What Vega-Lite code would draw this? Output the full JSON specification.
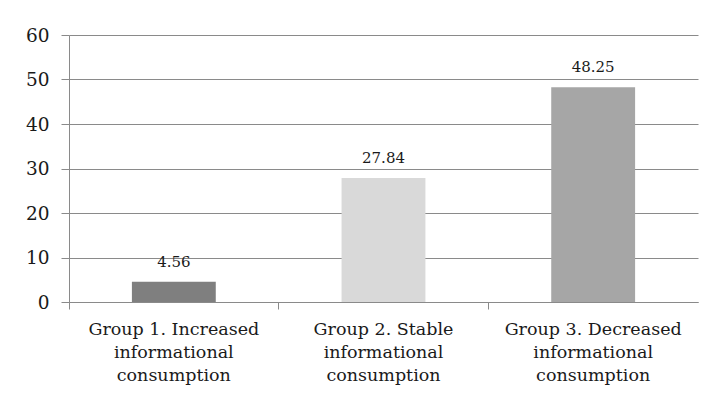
{
  "$schema": "https://vega.github.io/schema/vega-lite/v6.json",
  "width": 629,
  "height": 267,
  "autosize": {"type": "none"},
  "padding": {"left": 69, "top": 35, "right": 14, "bottom": 99},
  "background": "white",
  "config": {
    "view": {"stroke": null},
    "font": "DejaVu Serif"
  },
  "data": {
    "values": [
      {"group": "Group 1. Increased|informational|consumption", "value": 4.56, "shade": "g1"},
      {"group": "Group 2. Stable|informational|consumption", "value": 27.84, "shade": "g2"},
      {"group": "Group 3. Decreased|informational|consumption", "value": 48.25, "shade": "g3"}
    ]
  },
  "encoding": {
    "x": {
      "field": "group",
      "type": "nominal",
      "sort": null,
      "scale": {"paddingInner": 0, "paddingOuter": 0},
      "axis": {
        "title": null,
        "labelAngle": 0,
        "labelExpr": "split(datum.label, '|')",
        "labelFont": "DejaVu Serif",
        "labelFontSize": 17.5,
        "labelColor": "#1a1a1a",
        "labelLineHeight": 23,
        "labelPadding": 11,
        "bandPosition": 0,
        "domainColor": "#8a8a8a",
        "tickColor": "#8a8a8a",
        "tickSize": 7,
        "grid": false
      }
    }
  },
  "layer": [
    {
      "mark": {"type": "bar", "width": {"band": 0.4}},
      "encoding": {
        "y": {
          "field": "value",
          "type": "quantitative",
          "scale": {"domain": [0, 60], "nice": false},
          "axis": {
            "title": null,
            "values": [0, 10, 20, 30, 40, 50, 60],
            "labelFont": "DejaVu Serif",
            "labelFontSize": 18.5,
            "labelColor": "#1a1a1a",
            "labelPadding": 12,
            "tickSize": 8,
            "tickColor": "#8a8a8a",
            "domainColor": "#8a8a8a",
            "gridColor": "#8a8a8a",
            "gridWidth": 1
          }
        },
        "color": {
          "field": "shade",
          "type": "nominal",
          "scale": {"domain": ["g1", "g2", "g3"], "range": ["#7f7f7f", "#d9d9d9", "#a6a6a6"]},
          "legend": null
        }
      }
    },
    {
      "mark": {"type": "text", "dy": -12, "font": "DejaVu Serif", "fontSize": 15, "color": "#1a1a1a", "baseline": "bottom"},
      "encoding": {
        "y": {"field": "value", "type": "quantitative"},
        "text": {"field": "value", "type": "quantitative", "format": ".2f"}
      }
    }
  ]
}
